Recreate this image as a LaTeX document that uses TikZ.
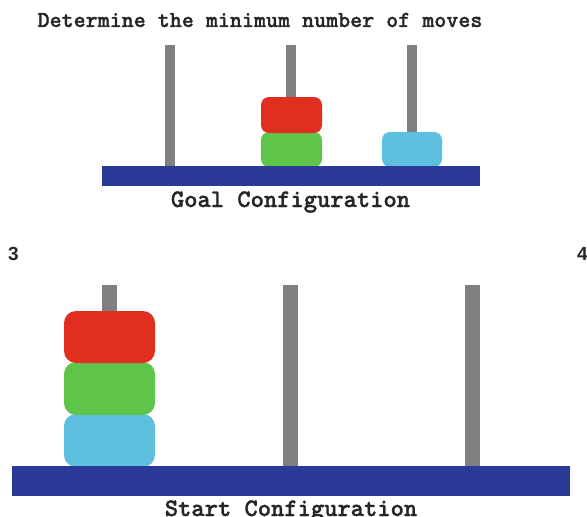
\documentclass[tikz,border=0pt]{standalone}
\usepackage{fontspec}
\newfontfamily\digitfont{Liberation Sans}
\newfontfamily\typewriter{lmmonolt10-bold}[Extension=.otf, FakeBold=1.2]
\definecolor{rodgray}{HTML}{808080}
\definecolor{basenavy}{HTML}{2B3A98}
\definecolor{diskred}{HTML}{E02E20}
\definecolor{diskgreen}{HTML}{5EC44A}
\definecolor{diskcyan}{HTML}{5FBFE0}
\tikzset{
  rod/.style={fill=rodgray},
  platform/.style={fill=basenavy},
  disk/.style={rounded corners=#1},
  caption/.style={font=\typewriter\bfseries\fontsize{25.3}{27}\selectfont, text=black!85, anchor=base, inner sep=0pt},
  heading/.style={font=\typewriter\bfseries\fontsize{22.9}{25}\selectfont, text=black!85, inner sep=0pt},
  num/.style={font=\digitfont\bfseries\fontsize{19}{21}\selectfont, text=black!85, anchor=base west, inner sep=0pt}
}
\begin{document}
\begin{tikzpicture}[x=1pt,y=-1pt]
  \useasboundingbox (0,0) rectangle (587,517);
  \fill[white] (0,0) rectangle (587,517);

  % heading
  \node[heading] (title) at (260,20) {Determine the minimum number of moves};

  % goal configuration
  \fill[rod] (165,45) rectangle (175,167);
  \fill[rod] (286,45) rectangle (296,167);
  \fill[rod] (407,45) rectangle (417,167);
  \fill[diskgreen, disk=8pt] (261,132) rectangle (322,167);
  \fill[diskred, disk=8pt] (261,97) rectangle (322,133);
  \fill[diskcyan, disk=8pt] (382,132) rectangle (442,167);
  \fill[platform] (102,166) rectangle (480,186);
  \node[caption] (goal) at (290.5,207) {Goal  Configuration};

  % step labels
  \node[num] (three) at (8,260) {3};
  \node[num] (four) at (577,260) {4};

  % start configuration
  \fill[rod] (102,285) rectangle (117,467);
  \fill[rod] (283,285) rectangle (298,467);
  \fill[rod] (465,285) rectangle (480,467);
  \fill[diskcyan, disk=12pt] (64,414) rectangle (155,467);
  \fill[diskgreen, disk=12pt] (64,362) rectangle (155,415);
  \fill[diskred, disk=12pt] (64,311) rectangle (155,363);
  \fill[platform] (12,466) rectangle (570,496);
  \node[caption] (start) at (291,516) {Start Configuration};
\end{tikzpicture}
\end{document}
